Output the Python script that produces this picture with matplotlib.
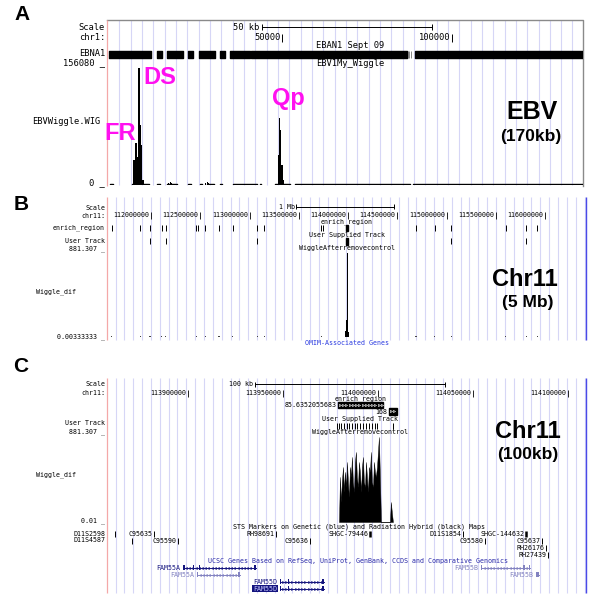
import matplotlib
matplotlib.use("Agg")
import numpy as np
import matplotlib.pyplot as plt
from matplotlib.patches import Rectangle

# ================= DATA =================
# ---- Panel A : EBV genome, positions in kb ----
a_range_kb = (-1.47, 138.53)
a_tick_kb = [50, 100]
a_tick_labels = ["50000", "100000"]
a_scale_kb = (44.0, 94.0)
ebna1_starts = [-0.8, 13.2, 16.2, 22.4, 25.6, 31.8, 34.7, 40.9, 89.1]
ebna1_ends = [11.5, 14.7, 20.9, 23.8, 30.3, 33.2, 40.6, 86.8, 138.5]
ebna1_thin = [87.1, 87.5, 87.9]
ebv_wig_pos = [6.18, 6.47, 6.77, 7.06, 7.35, 7.65, 7.94, 8.24, 8.53, 8.82, 9.12,
               16.5, 17.1, 17.4, 18.2, 27.6, 28.2, 28.5, 42.1,
               49.1, 49.4, 49.7, 50.0, 50.3]
ebv_wig_val = [10700, 33000, 53000, 56000, 43000, 37000, 156080, 80000, 53000, 20000, 6700,
               2600, 4000, 3300, 2000, 2600, 4000, 2600, 1400,
               40000, 89000, 73000, 27000, 6700]
ebv_low_start = [-0.6, 5.9, 13.2, 16.2, 22.4, 25.9, 27.9, 31.8, 35.6, 43.5, 47.9, 53.8, 88.5]
ebv_low_end = [0.3, 10.9, 14.1, 19.1, 23.2, 26.5, 30.0, 32.3, 42.6, 43.8, 52.4, 87.6, 138.5]
ebv_wig_max = 156080

# ---- Panel B : chr11, 5 Mb window, positions in Mb ----
b_range_mb = (111.5533, 116.4162)
b_tick_mb = [112.0, 112.5, 113.0, 113.5, 114.0, 114.5, 115.0, 115.5, 116.0]
b_tick_labels = ["112000000", "112500000", "113000000", "113500000", "114000000",
                 "114500000", "115000000", "115500000", "116000000"]
b_scale_mb = (113.47, 114.47)
b_enrich_mb = [111.604, 111.888, 111.990, 112.112, 112.152, 112.457, 112.477, 112.548,
               112.690, 112.832, 113.076, 113.147, 113.726, 113.746, 114.690, 114.883,
               115.046, 115.604, 115.807, 115.919]
b_enrich_block = (113.975, 114.005)
b_user_mb = [111.990, 112.152, 113.076, 115.046, 115.807]
b_user_block = (113.975, 114.005)
b_wig_pos = [113.970, 113.980, 113.990, 114.000, 114.010]
b_wig_val = [60, 180, 881.307, 200, 50]
b_wig_low_pos = [111.60, 111.89, 111.99, 112.11, 112.15, 112.46, 112.55, 112.69, 112.83,
                 113.08, 113.15, 113.73, 114.69, 114.88, 115.05, 115.60, 115.81, 115.92]
b_wig_low_val = [10] * len(b_wig_low_pos)
wig_max = 881.307

# ---- Panel C : chr11, 100 kb window, positions in kb ----
c_range_kb = (113857.4, 114109.5)
c_tick_kb = [113900, 113950, 114000, 114050, 114100]
c_tick_labels = ["113900000", "113950000", "114000000", "114050000", "114100000"]
c_scale_kb = (113935.3, 114035.3)
c_enrich_block = (113979.0, 114002.6)
c_enrich_score = "85.6352055683"
c_enrich_block2 = (114005.8, 114010.0)
c_enrich_score2 = "168"
c_user_kb = [113978.4, 113979.5, 113980.5, 113982.1, 113983.7, 113984.7, 113986.3, 113987.9,
             113988.9, 113990.5, 113992.1, 113993.7, 113995.3, 113996.8, 113998.4, 113999.5,
             114007.9]
c_wig_pos = [113979.5, 113980.0, 113980.5, 113981.0, 113981.6, 113982.1, 113982.6, 113983.2,
             113983.7, 113984.2, 113984.7, 113985.3, 113985.8, 113986.3, 113986.8, 113987.4,
             113987.9, 113988.4, 113988.9, 113989.5, 113990.0, 113990.5, 113991.1, 113991.6,
             113992.1, 113992.6, 113993.2, 113993.7, 113994.2, 113994.7, 113995.3, 113995.8,
             113996.3, 113996.8, 113997.4, 113997.9, 113998.4, 113998.9, 113999.5, 114000.0,
             114000.5, 114001.1, 114001.6, 114006.3, 114006.8, 114007.4, 114007.9]
c_wig_val = [0, 467, 207, 415, 570, 311, 519, 363,
             622, 415, 259, 570, 467, 674, 415, 311,
             622, 726, 467, 363, 622, 519, 311, 570,
             674, 415, 363, 622, 467, 311, 570, 519,
             726, 415, 363, 622, 519, 467, 570, 726,
             881, 415, 0, 0, 207, 83, 0]
sts_names = ["D11S2598", "C95635", "RH98691", "SHGC-79446", "D11S1854", "SHGC-144632",
             "D11S4587", "C95590", "C95636", "C95580", "C95637", "RH26176", "RH27439"]
sts_pos_kb = [113861.6, 113882.1, 113946.3, 113995.8, 114044.7, 114077.9,
              113870.5, 113894.7, 113964.2, 114056.3, 114086.3, 114088.4, 114089.5]
sts_row = [0, 0, 0, 0, 0, 0, 1, 1, 1, 1, 1, 2, 3]
sts_thick = [False, False, False, True, False, True, False, False, False, False, False, False, False]
gene_names = ["FAM55A", "FAM55A", "FAM55D", "FAM55D", "FAM55B", "FAM55B"]
gene_start = [113897.4, 113904.7, 113948.4, 113948.4, 114054.2, 114083.2]
gene_end = [113935.8, 113927.4, 113971.6, 113971.6, 114080.0, 114084.6]
gene_strand = ["-", "-", "+", "+", "-", "-"]
gene_row = [0, 1, 2, 3, 0, 1]
gene_dark = [True, False, True, True, False, False]
gene_highlight = [False, False, False, True, False, False]
gene_exons = [
    [(113897.4, 113898.6), (113902.4, 113903.2), (113905.8, 113906.6), (113934.9, 113935.8)],
    [(113904.7, 113905.5), (113926.6, 113927.4)],
    [(113948.4, 113949.2), (113952.5, 113953.3), (113970.8, 113971.6)],
    [(113948.4, 113949.2), (113952.5, 113953.3), (113970.8, 113971.6)],
    [(114054.2, 114055.0), (114076.2, 114077.4), (114079.4, 114080.0)],
    [(114083.2, 114084.6)],
]

# ================= STYLE =================
W = H = 600
MONO = "DejaVu Sans Mono"
SANS = "Liberation Sans"
GRID = "#d6d6f6"
PINK = "#f4a8a8"
BLUE_EDGE = "#4a4ae8"
MAG = "#ff10f0"
NAVY = "#14147e"
LIGHT = "#8282c0"
FS_A = 6.3
FS = 4.8

fig = plt.figure(figsize=(6, 6), dpi=100)
fig.patch.set_facecolor("white")
bg = fig.add_axes([0, 0, 1, 1])
bg.set_xlim(0, W)
bg.set_ylim(H, 0)
bg.set_axis_off()


def track_axes(x0, x1, y0, y1, rng, ylim=None):
    ax = fig.add_axes([x0 / W, 1 - y1 / H, (x1 - x0) / W, (y1 - y0) / H])
    ax.set_xlim(*rng)
    if ylim is None:
        ax.set_ylim(y1, y0)
    else:
        ax.set_ylim(*ylim)
    ax.set_axis_off()
    ax.patch.set_alpha(0)
    return ax


def left_label(x, y, s, fs, ha="right", color="black"):
    bg.text(x, y, s, ha=ha, va="center", fontsize=fs, family=MONO, color=color)


def pos_label(ax, pos, y, s, fs, color="black", dx=-1.2):
    ax.annotate(s, (pos, y), xytext=(dx, 0), textcoords="offset points",
                ha="right", va="center", fontsize=fs, family=MONO, color=color)


def scale_bar(ax, lo, hi, y, h):
    ax.plot([lo, hi], [y, y], color="black", lw=0.7)
    ax.vlines([lo, hi], y - h, y + h, color="black", lw=0.7)


# ---------------- grid lines / frames ----------------
bg.vlines(np.arange(119.3, 583, 11.33), 20, 185, color=GRID, lw=0.8)
bg.vlines(np.arange(115.5, 586, 8.85), 197, 340, color=GRID, lw=0.8)
bg.vlines(np.arange(115.5, 586, 8.85), 378, 593, color=GRID, lw=0.8)
bg.plot([107, 583, 583], [20, 20, 186], color="#8a8a8a", lw=1.0)
bg.vlines(107, 20, 186, color=PINK, lw=0.9)
bg.vlines(107, 197, 340, color=PINK, lw=0.9)
bg.vlines(107, 378, 593, color=PINK, lw=0.9)
bg.vlines(586, 197, 340, color=BLUE_EDGE, lw=1.0)
bg.vlines(586, 378, 593, color=BLUE_EDGE, lw=1.0)

# ---------------- Panel A ----------------
pa = track_axes(107, 583, 20, 187, a_range_kb)
pa_w = track_axes(107, 583, 68, 185, a_range_kb, (0, ebv_wig_max))
scale_bar(pa, a_scale_kb[0], a_scale_kb[1], 27, 3)
pa.text(a_scale_kb[0] - 0.6, 27, "50 kb", ha="right", va="center", fontsize=FS_A, family=MONO)
for p, lab in zip(a_tick_kb, a_tick_labels):
    pa.vlines(p, 34, 42, color="black", lw=0.7)
    pos_label(pa, p, 38, lab, FS_A)
pa.broken_barh([(s, e - s) for s, e in zip(ebna1_starts, ebna1_ends)], (51, 7), color="black")
pa.vlines(ebna1_thin, 51, 58, color="#555555", lw=0.5)
pa.text(60.0, 45, "EBAN1 Sept 09", ha="left", va="center", fontsize=FS_A, family=MONO)
pa.text(60.0, 63, "EBV1My_Wiggle", ha="left", va="center", fontsize=FS_A, family=MONO)
pa_w.broken_barh([(s, e - s) for s, e in zip(ebv_low_start, ebv_low_end)], (0, 1500), color="black")
pa_w.bar(ebv_wig_pos, ebv_wig_val, width=0.3, color="black", linewidth=0)

left_label(105, 27, "Scale", FS_A)
left_label(105, 38, "chr1:", FS_A)
left_label(105, 54, "EBNA1", FS_A)
left_label(105, 63, "156080 _", FS_A)
left_label(100, 121, "EBVWiggle.WIG", FS_A)
left_label(105, 183, "0 _", FS_A)

bg.text(120, 133, "FR", color=MAG, fontsize=17, fontweight="bold", family=SANS, ha="center", va="center")
bg.text(160, 78, "DS", color=MAG, fontsize=17, fontweight="bold", family=SANS, ha="center", va="center")
bg.text(288, 99, "Qp", color=MAG, fontsize=17, fontweight="bold", family=SANS, ha="center", va="center")
bg.text(532, 112, "EBV", fontsize=18, fontweight="bold", family=SANS, ha="center", va="center")
bg.text(531, 136, "(170kb)", fontsize=12.5, fontweight="bold", family=SANS, ha="center", va="center")

# ---------------- Panel B ----------------
pb = track_axes(107, 586, 197, 347, b_range_mb)
pb_w = track_axes(107, 586, 253, 337, b_range_mb, (0, wig_max))
scale_bar(pb, b_scale_mb[0], b_scale_mb[1], 207, 2.5)
pb.text(b_scale_mb[0] - 0.01, 207, "1 Mb", ha="right", va="center", fontsize=FS, family=MONO)
for p, lab in zip(b_tick_mb, b_tick_labels):
    pb.vlines(p, 212, 219, color="black", lw=0.6)
    pos_label(pb, p, 215.5, lab, FS)
mid_b = sum(b_enrich_block) / 2
pb.text(mid_b, 221.5, "enrich_region", ha="center", va="center", fontsize=FS, family=MONO)
pb.vlines(b_enrich_mb, 225.5, 231.5, color="black", lw=0.7)
pb.add_patch(Rectangle((b_enrich_block[0], 225), b_enrich_block[1] - b_enrich_block[0], 6.5, color="black"))
pb.text(mid_b, 235, "User Supplied Track", ha="center", va="center", fontsize=FS, family=MONO)
pb.vlines(b_user_mb, 238, 244, color="black", lw=0.7)
pb.add_patch(Rectangle((b_user_block[0], 238.5), b_user_block[1] - b_user_block[0], 6.5, color="black"))
pb.text(mid_b, 248.5, "WiggleAfterremovecontrol", ha="center", va="center", fontsize=FS, family=MONO)
pb_w.bar(b_wig_pos, b_wig_val, width=0.0101, color="black", linewidth=0)
pb_w.bar(b_wig_low_pos, b_wig_low_val, width=0.012, color="#444444", linewidth=0)
pb.text(mid_b, 343.5, "OMIM-Associated Genes", ha="center", va="center", fontsize=FS, family=MONO, color="#2a3ae0")

left_label(105, 208, "Scale", FS)
left_label(105, 215.5, "chr11:", FS)
left_label(105, 228, "enrich_region", FS)
left_label(105, 241, "User Track", FS)
left_label(105, 248.5, "881.307 _", FS)
left_label(36, 292, "Wiggle_dif", FS, ha="left")
left_label(105, 337, "0.00333333 _", FS)

bg.text(525, 280, "Chr11", fontsize=17, fontweight="bold", family=SANS, ha="center", va="center")
bg.text(528, 303, "(5 Mb)", fontsize=12.5, fontweight="bold", family=SANS, ha="center", va="center")

# ---------------- Panel C ----------------
pc = track_axes(107, 586, 378, 595, c_range_kb)
pc_w = track_axes(107, 586, 437, 522, c_range_kb, (0, wig_max))
scale_bar(pc, c_scale_kb[0], c_scale_kb[1], 384, 2.5)
pc.text(c_scale_kb[0] - 1.0, 384, "100 kb", ha="right", va="center", fontsize=FS, family=MONO)
for p, lab in zip(c_tick_kb, c_tick_labels):
    pc.vlines(p, 389.5, 396.5, color="black", lw=0.6)
    pos_label(pc, p, 393, lab, FS)
mid_c = sum(c_enrich_block) / 2
pc.text(mid_c, 399, "enrich_region", ha="center", va="center", fontsize=FS, family=MONO)
for (lo, hi), y0, lab in [(c_enrich_block, 401.5, c_enrich_score), (c_enrich_block2, 408, c_enrich_score2)]:
    pc.add_patch(Rectangle((lo, y0), hi - lo, 6.5, color="black"))
    pc.plot(np.arange(lo + 1.0, hi - 0.5, 1.7), [y0 + 3.25] * len(np.arange(lo + 1.0, hi - 0.5, 1.7)),
            ls="none", marker=">", ms=1.6, mfc="none", mec="white", mew=0.4)
    pos_label(pc, lo, y0 + 3.5, lab, FS)
pc.text(mid_c - 0.5, 418.5, "User Supplied Track", ha="center", va="center", fontsize=FS, family=MONO)
pc.vlines(c_user_kb, 422.5, 429, color="black", lw=0.7)
pc.text(mid_c, 432, "WiggleAfterremovecontrol", ha="center", va="center", fontsize=FS, family=MONO)
pc_w.fill_between(c_wig_pos, c_wig_val, 0, color="black", linewidth=0.3)

pc.text(mid_c - 1.0, 527, "STS Markers on Genetic (blue) and Radiation Hybrid (black) Maps",
        ha="center", va="center", fontsize=FS, family=MONO)
sts_y = [533.5, 540.5, 547.5, 554.5]
char_kb = 2.1
for name, p, r, thick in zip(sts_names, sts_pos_kb, sts_row, sts_thick):
    y = sts_y[r]
    pc.vlines(p, y - 3, y + 3, color="black", lw=1.8 if thick else 0.7)
    if p - len(name) * char_kb < c_range_kb[0]:
        left_label(106, y, name, FS)
    else:
        pos_label(pc, p, y, name, FS)

pc.text(mid_c - 0.5 - 1.0, 561, "UCSC Genes Based on RefSeq, UniProt, GenBank, CCDS and Comparative Genomics",
        ha="center", va="center", fontsize=FS, family=MONO, color="#2a2aa8")
gene_y = [567.5, 574.5, 581.5, 588.5]
for name, s, e, st, r, dark, hl, exons in zip(gene_names, gene_start, gene_end, gene_strand,
                                               gene_row, gene_dark, gene_highlight, gene_exons):
    y = gene_y[r]
    col = NAVY if dark else LIGHT
    pc.plot([s, e], [y, y], color=col, lw=0.7)
    arr = np.arange(s + 1.5, e - 0.8, 1.7)
    pc.plot(arr, [y] * len(arr), ls="none", marker="<" if st == "-" else ">", ms=1.6,
            mfc="none", mec=col, mew=0.4)
    for lo, hi in exons:
        pc.add_patch(Rectangle((lo, y - 2.8), hi - lo, 5.6, color=col, lw=0))
    if hl:
        pc.annotate(name, (s, y), xytext=(-2.2, 0), textcoords="offset points", ha="right",
                    va="center", fontsize=FS, family=MONO, color="#c8c8ff",
                    bbox=dict(boxstyle="square,pad=0.1", fc=NAVY, ec="none"))
    else:
        pos_label(pc, s, y, name, FS, color=col, dx=-1.8)

left_label(105, 384, "Scale", FS)
left_label(105, 393, "chr11:", FS)
left_label(105, 423, "User Track", FS)
left_label(105, 432, "881.307 _", FS)
left_label(36, 475, "Wiggle_dif", FS, ha="left")
left_label(105, 521, "0.01 _", FS)

bg.text(528, 431, "Chr11", fontsize=17, fontweight="bold", family=SANS, ha="center", va="center")
bg.text(528, 455, "(100kb)", fontsize=12.5, fontweight="bold", family=SANS, ha="center", va="center")

# ---------------- panel letters ----------------
bg.text(22, 14, "A", fontsize=15, fontweight="bold", family=SANS, ha="center", va="center")
bg.text(21, 204, "B", fontsize=15, fontweight="bold", family=SANS, ha="center", va="center")
bg.text(21, 366, "C", fontsize=15, fontweight="bold", family=SANS, ha="center", va="center")

fig.savefig("out.png", dpi=100, facecolor="white")
